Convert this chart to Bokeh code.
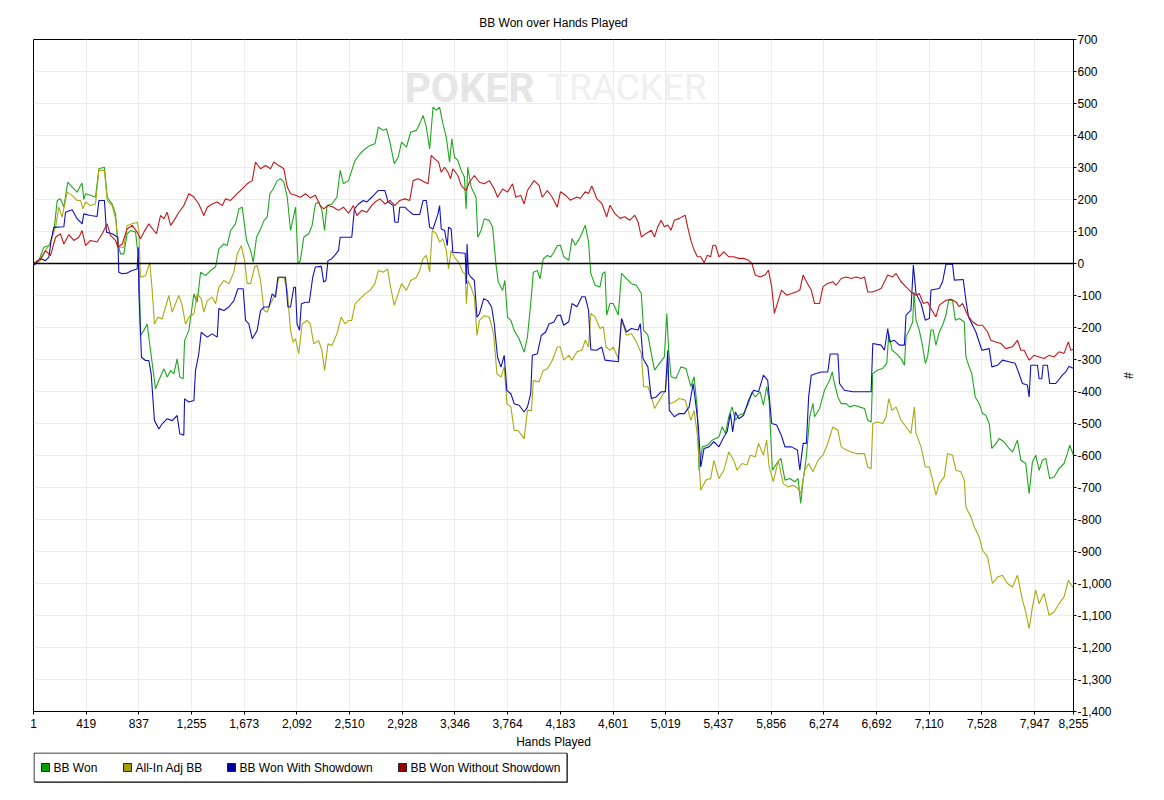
from bokeh.plotting import figure
from bokeh.layouts import column
from bokeh.core.properties import value
from bokeh.models import (Range1d, FixedTicker, NumeralTickFormatter, Span, Label)
from bokeh.embed import file_html
from bokeh.resources import INLINE

title_text = "BB Won over Hands Played"
x_label = "Hands Played"
y_label = "#"
series_names = ["BB Won", "All-In Adj BB", "BB Won With Showdown", "BB Won Without Showdown"]
series_colors = ["#1ea81e", "#aaaa10", "#1010c0", "#c01818"]
swatch_colors = ["#00a000", "#a0a000", "#0000a0", "#a00000"]
x_ticks = [1, 419, 837, 1255, 1673, 2092, 2510, 2928, 3346, 3764, 4183, 4601,
           5019, 5437, 5856, 6274, 6692, 7110, 7528, 7947, 8255]
y_ticks = [-1400, -1300, -1200, -1100, -1000, -900, -800, -700, -600, -500, -400,
           -300, -200, -100, 0, 100, 200, 300, 400, 500, 600, 700]

# (hand, BB) points
won_points = [
    (1, -6), (43, 9), (83, 51), (123, 56), (149, 82), (168, 119), (189, 197), (215, 202),
    (242, 176), (273, 254), (308, 239), (347, 223), (374, 244), (387, 251), (400, 200),
    (414, 218), (453, 213), (493, 207), (520, 296), (564, 301), (586, 207), (625, 186),
    (652, 155), (670, 61), (692, 30), (718, 30), (744, 93), (771, 103), (811, 98),
    (824, 51), (837, 20), (850, -225), (877, -209), (903, -189), (930, -272), (969, -392),
    (996, -365), (1036, -329), (1062, -355), (1089, -334), (1115, -345), (1141, -298),
    (1162, -355), (1189, -360), (1200, -241), (1234, -209), (1274, -95), (1300, -121),
    (1327, -27), (1366, -38), (1406, -22), (1446, -11), (1472, 46), (1512, 61), (1538, 56),
    (1565, 103), (1604, 124), (1631, 171), (1657, 176), (1692, 72), (1724, 41), (1745, 4),
    (1771, 82), (1803, 108), (1830, 134), (1856, 145), (1877, 218), (1903, 233),
    (1935, 259), (1962, 265), (1988, 254), (2015, 207), (2041, 103), (2081, 176),
    (2101, -1), (2119, 9), (2146, 82), (2185, 93), (2212, 119), (2238, 186), (2264, 192),
    (2290, 166), (2311, 103), (2330, 181), (2369, 186), (2409, 207), (2435, 291),
    (2461, 249), (2501, 259), (2527, 291), (2553, 322), (2593, 343), (2632, 358),
    (2672, 369), (2711, 374), (2738, 426), (2777, 416), (2803, 421), (2830, 379),
    (2864, 312), (2895, 332), (2922, 379), (2961, 364), (2995, 411), (3040, 416),
    (3066, 437), (3093, 463), (3119, 426), (3145, 358), (3172, 489), (3198, 479),
    (3224, 489), (3250, 437), (3277, 395), (3303, 317), (3321, 390), (3342, 332),
    (3369, 322), (3395, 291), (3421, 270), (3434, 171), (3448, 301), (3474, 239),
    (3513, 207), (3527, 82), (3553, 103), (3579, 140), (3619, 134), (3645, 113),
    (3671, -1), (3690, -58), (3724, -84), (3742, -53), (3763, -168), (3790, -178),
    (3816, -209), (3855, -235), (3895, -277), (3921, -230), (3947, -126), (3968, -27),
    (4000, -22), (4021, -48), (4047, 15), (4079, 25), (4105, 20), (4131, 35), (4158, 56),
    (4183, 57), (4209, 21), (4249, 10), (4275, 78), (4301, 57), (4327, 73), (4353, 94),
    (4380, 120), (4406, 68), (4424, -31), (4458, -68), (4497, -73), (4518, -31),
    (4537, -26), (4550, -161), (4576, -125), (4602, -125), (4642, -161), (4668, -31),
    (4707, -47), (4746, -63), (4786, -68), (4825, -94), (4843, -208), (4877, -224),
    (4904, -281), (4930, -333), (4969, -312), (5008, -292), (5027, -156), (5042, -271),
    (5061, -354), (5100, -359), (5139, -323), (5179, -328), (5218, -385), (5244, -354),
    (5270, -458), (5283, -646), (5310, -573), (5349, -568), (5388, -552), (5414, -547),
    (5441, -542), (5467, -510), (5493, -531), (5519, -479), (5545, -448), (5572, -490),
    (5598, -474), (5637, -469), (5676, -437), (5703, -401), (5729, -417), (5768, -401),
    (5794, -443), (5820, -385), (5839, -427), (5865, -646), (5899, -625), (5933, -609),
    (5965, -677), (6004, -672), (6043, -682), (6069, -672), (6090, -750), (6109, -677),
    (6135, -604), (6161, -479), (6187, -437), (6200, -479), (6240, -453), (6279, -396),
    (6319, -365), (6340, -339), (6358, -375), (6385, -417), (6411, -438), (6451, -438),
    (6477, -448), (6517, -443), (6556, -448), (6596, -453), (6622, -490), (6649, -495),
    (6662, -344), (6701, -333), (6741, -328), (6773, -312), (6789, -219), (6815, -271),
    (6847, -281), (6886, -297), (6913, -318), (6926, -229), (6952, -208), (6979, -182),
    (6989, -89), (7005, -177), (7031, -208), (7058, -260), (7079, -312), (7097, -292),
    (7124, -208), (7142, -208), (7163, -255), (7190, -214), (7216, -193), (7243, -161),
    (7264, -115), (7295, -115), (7317, -177), (7348, -172), (7388, -182), (7401, -292),
    (7427, -323), (7448, -344), (7475, -417), (7507, -438), (7533, -469), (7559, -474),
    (7586, -500), (7607, -578), (7639, -563), (7665, -547), (7705, -558), (7744, -578),
    (7771, -589), (7810, -552), (7837, -615), (7876, -625), (7903, -719), (7929, -620),
    (7955, -599), (7982, -646), (8008, -615), (8035, -609), (8066, -672), (8101, -667),
    (8140, -641), (8180, -625), (8206, -594), (8225, -568), (8255, -599),
]

allin_points = [
    (1, -6), (57, 9), (96, 41), (123, 56), (149, 82), (176, 113), (202, 176), (228, 145),
    (268, 223), (308, 213), (347, 197), (374, 197), (393, 171), (414, 192), (453, 181),
    (493, 186), (520, 291), (564, 291), (586, 197), (625, 181), (652, 140), (678, 51),
    (718, 51), (744, 119), (784, 124), (824, 129), (837, 103), (850, -43), (890, -38),
    (924, 4), (943, -84), (961, -189), (988, -168), (1022, -173), (1049, -136),
    (1075, -100), (1102, -152), (1128, -126), (1155, -100), (1181, -131), (1207, -189),
    (1234, -168), (1274, -157), (1300, -95), (1332, -110), (1353, -152), (1380, -116),
    (1419, -105), (1446, -126), (1472, -74), (1512, -53), (1552, -63), (1591, -27),
    (1618, 30), (1650, 56), (1676, 9), (1697, -63), (1724, -63), (1755, -11), (1776, -6),
    (1803, -53), (1830, -147), (1856, -152), (1882, -126), (1922, -95), (1948, -43),
    (1988, -43), (2015, -84), (2041, -209), (2060, -246), (2080, -235), (2106, -282),
    (2133, -189), (2172, -178), (2198, -189), (2225, -251), (2264, -241), (2290, -272),
    (2311, -334), (2338, -251), (2369, -256), (2409, -220), (2443, -168), (2475, -189),
    (2501, -178), (2527, -178), (2553, -126), (2593, -110), (2632, -95), (2672, -84),
    (2711, -63), (2738, -22), (2777, -27), (2811, -17), (2830, -63), (2864, -131),
    (2895, -95), (2922, -63), (2961, -84), (2995, -53), (3040, -43), (3066, -22),
    (3093, 15), (3119, 25), (3145, -27), (3166, 103), (3198, 93), (3224, 67), (3250, 77),
    (3277, 41), (3295, -17), (3316, 41), (3342, 20), (3382, -1), (3408, -27), (3427, -32),
    (3437, -126), (3448, -53), (3474, -74), (3500, -105), (3521, -225), (3540, -178),
    (3579, -163), (3619, -168), (3653, -220), (3679, -345), (3711, -355), (3737, -323),
    (3758, -438), (3790, -449), (3816, -522), (3848, -522), (3895, -548), (3921, -459),
    (3953, -459), (3968, -366), (4013, -370), (4047, -334), (4079, -329), (4118, -303),
    (4158, -261), (4183, -261), (4209, -302), (4249, -287), (4275, -302), (4314, -276),
    (4353, -271), (4380, -240), (4406, -261), (4424, -156), (4458, -167), (4497, -203),
    (4524, -198), (4545, -261), (4576, -271), (4602, -261), (4642, -297), (4668, -177),
    (4707, -224), (4746, -219), (4786, -245), (4825, -281), (4843, -385), (4877, -385),
    (4904, -417), (4930, -453), (4969, -427), (5016, -396), (5035, -312), (5047, -438),
    (5087, -433), (5126, -422), (5173, -427), (5218, -490), (5244, -459), (5270, -537),
    (5297, -709), (5336, -677), (5375, -672), (5401, -615), (5441, -672), (5480, -646),
    (5519, -589), (5559, -615), (5585, -646), (5624, -625), (5663, -630), (5690, -599),
    (5729, -604), (5755, -562), (5794, -599), (5820, -552), (5839, -635), (5873, -682),
    (5912, -615), (5951, -688), (5991, -698), (6030, -693), (6069, -703), (6090, -719),
    (6122, -646), (6153, -625), (6187, -651), (6227, -615), (6266, -599), (6300, -568),
    (6345, -511), (6385, -521), (6411, -573), (6451, -583), (6490, -589), (6530, -594),
    (6596, -594), (6622, -636), (6649, -641), (6662, -500), (6701, -495), (6741, -500),
    (6767, -479), (6789, -422), (6815, -459), (6847, -448), (6886, -490), (6926, -511),
    (6965, -531), (6992, -448), (7005, -531), (7045, -573), (7079, -636), (7111, -636),
    (7137, -677), (7163, -724), (7190, -688), (7229, -667), (7256, -594), (7295, -599),
    (7322, -646), (7361, -651), (7388, -677), (7401, -761), (7441, -792), (7467, -823),
    (7507, -855), (7533, -896), (7573, -917), (7612, -1000), (7652, -980), (7691, -974),
    (7731, -1000), (7771, -1011), (7810, -974), (7850, -1052), (7876, -1089),
    (7903, -1141), (7929, -1073), (7955, -1021), (7982, -1063), (8021, -1031),
    (8061, -1099), (8101, -1089), (8140, -1063), (8180, -1042), (8214, -990), (8255, -1015),
]

showdown_points = [
    (1, -6), (57, 15), (96, 9), (123, 20), (141, 72), (162, 113), (242, 115), (255, 160),
    (308, 168), (347, 140), (387, 124), (400, 155), (453, 150), (506, 147), (520, 197),
    (564, 197), (580, 98), (625, 93), (670, 82), (678, -27), (705, -32), (744, -30),
    (784, -22), (824, -17), (832, 51), (837, -84), (858, -293), (890, -303), (916, -303),
    (935, -345), (961, -491), (996, -517), (1022, -501), (1062, -485), (1102, -491),
    (1141, -475), (1162, -532), (1194, -537), (1200, -423), (1234, -433), (1274, -428),
    (1287, -334), (1313, -282), (1332, -215), (1380, -230), (1419, -220), (1459, -230),
    (1472, -141), (1512, -147), (1552, -136), (1591, -116), (1623, -79), (1665, -79),
    (1684, -178), (1710, -189), (1737, -235), (1776, -209), (1803, -147), (1830, -136),
    (1869, -136), (1895, -95), (1922, -105), (1940, -43), (2001, -43), (2020, -136),
    (2041, -136), (2067, -74), (2080, -74), (2093, -189), (2112, -209), (2127, -126),
    (2159, -121), (2190, -121), (2217, -43), (2238, -11), (2285, -9), (2304, -58),
    (2322, -53), (2338, 9), (2369, 15), (2401, 30), (2422, 41), (2435, 82), (2527, 82),
    (2548, 171), (2580, 186), (2619, 197), (2645, 192), (2685, 207), (2724, 223),
    (2738, 228), (2790, 228), (2816, 192), (2856, 181), (2869, 129), (2895, 129),
    (2908, 176), (2948, 176), (2974, 166), (3014, 153), (3066, 153), (3093, 197),
    (3119, 197), (3145, 113), (3172, 108), (3211, 155), (3224, 181), (3237, 108),
    (3264, 103), (3285, 56), (3295, 113), (3316, 108), (3329, 35), (3427, 32),
    (3437, -63), (3442, 61), (3453, -32), (3474, -43), (3500, -53), (3521, -168),
    (3540, -157), (3574, -110), (3605, -116), (3637, -136), (3658, -189), (3684, -293),
    (3711, -324), (3737, -287), (3758, -397), (3790, -407), (3816, -438), (3855, -443),
    (3895, -464), (3921, -449), (3947, -407), (3960, -287), (4000, -282), (4031, -225),
    (4066, -214), (4092, -189), (4131, -183), (4158, -163), (4183, -161), (4209, -193),
    (4249, -182), (4275, -125), (4314, -135), (4353, -104), (4380, -104), (4406, -146),
    (4424, -269), (4471, -271), (4511, -261), (4537, -302), (4642, -307), (4668, -172),
    (4707, -214), (4746, -203), (4799, -208), (4817, -188), (4838, -297), (4877, -323),
    (4904, -422), (4943, -417), (4982, -401), (5016, -401), (5035, -271), (5047, -459),
    (5087, -479), (5126, -469), (5166, -469), (5205, -448), (5236, -375), (5257, -438),
    (5278, -510), (5297, -636), (5323, -578), (5362, -573), (5401, -557), (5441, -573),
    (5480, -542), (5506, -526), (5532, -469), (5550, -526), (5572, -464), (5598, -485),
    (5637, -474), (5676, -427), (5716, -396), (5755, -401), (5794, -349), (5828, -365),
    (5860, -500), (5899, -505), (5938, -539), (5965, -573), (6017, -573), (6064, -583),
    (6083, -646), (6109, -562), (6135, -562), (6153, -417), (6174, -349), (6214, -344),
    (6253, -339), (6305, -339), (6324, -283), (6385, -283), (6398, -375), (6437, -396),
    (6503, -401), (6649, -401), (6662, -250), (6728, -255), (6754, -271), (6781, -203),
    (6794, -245), (6833, -240), (6873, -255), (6913, -255), (6926, -161), (6965, -146),
    (6984, -5), (7005, -94), (7045, -125), (7079, -177), (7111, -172), (7124, -83),
    (7190, -78), (7216, -57), (7243, -2), (7295, -2), (7309, -52), (7380, -50),
    (7401, -115), (7422, -167), (7454, -193), (7480, -214), (7528, -271), (7586, -266),
    (7607, -323), (7652, -318), (7691, -302), (7744, -307), (7792, -312), (7818, -339),
    (7850, -375), (7889, -380), (7903, -417), (7916, -318), (7969, -318), (7982, -360),
    (8003, -360), (8014, -318), (8048, -318), (8066, -375), (8114, -375), (8167, -349),
    (8193, -339), (8219, -321), (8255, -328),
]

no_showdown_points = [
    (1, 0), (57, 15), (96, 40), (136, 25), (176, 82), (215, 93), (242, 61), (281, 90),
    (321, 72), (361, 82), (387, 103), (414, 56), (453, 72), (506, 67), (546, 93),
    (586, 124), (612, 88), (652, 72), (670, 51), (705, 61), (744, 108), (784, 119),
    (824, 98), (850, 77), (877, 98), (916, 124), (956, 103), (977, 93), (1009, 150),
    (1036, 140), (1062, 160), (1089, 119), (1115, 134), (1155, 160), (1194, 181),
    (1234, 218), (1274, 208), (1313, 186), (1353, 150), (1380, 176), (1419, 186),
    (1459, 192), (1499, 181), (1525, 202), (1565, 197), (1604, 213), (1657, 233),
    (1697, 249), (1737, 259), (1763, 317), (1803, 296), (1842, 306), (1882, 296),
    (1909, 317), (1948, 306), (1988, 296), (2015, 239), (2041, 218), (2080, 213),
    (2119, 207), (2159, 218), (2198, 205), (2238, 213), (2277, 181), (2304, 171),
    (2343, 181), (2382, 176), (2422, 166), (2461, 176), (2501, 157), (2540, 181),
    (2567, 150), (2606, 166), (2645, 160), (2685, 181), (2711, 192), (2751, 202),
    (2790, 186), (2830, 197), (2869, 181), (2908, 197), (2948, 202), (2987, 197),
    (3014, 259), (3053, 265), (3093, 257), (3132, 249), (3158, 338), (3185, 327),
    (3216, 317), (3237, 285), (3264, 301), (3290, 285), (3311, 265), (3329, 296),
    (3369, 275), (3395, 244), (3434, 228), (3461, 254), (3500, 275), (3540, 254),
    (3579, 249), (3619, 259), (3658, 233), (3684, 207), (3724, 233), (3763, 223),
    (3803, 249), (3829, 207), (3868, 213), (3895, 186), (3921, 228), (3974, 259),
    (4013, 244), (4039, 207), (4079, 228), (4118, 207), (4158, 176), (4183, 224),
    (4222, 214), (4262, 198), (4288, 203), (4314, 208), (4340, 203), (4380, 224),
    (4406, 219), (4432, 242), (4471, 203), (4511, 188), (4550, 146), (4576, 182),
    (4615, 156), (4655, 141), (4694, 146), (4733, 135), (4773, 151), (4799, 130),
    (4825, 83), (4864, 94), (4904, 104), (4930, 83), (4956, 115), (4982, 135),
    (5008, 115), (5035, 120), (5061, 104), (5087, 135), (5126, 141), (5173, 151),
    (5192, 115), (5218, 73), (5244, 42), (5270, 21), (5297, 21), (5323, 2), (5349, 26),
    (5375, 21), (5393, 57), (5414, 57), (5441, 21), (5480, 36), (5519, 21), (5559, 21),
    (5598, 16), (5637, 16), (5676, 10), (5703, 0), (5729, -36), (5768, -42), (5807, -36),
    (5834, -21), (5860, -73), (5881, -156), (5912, -115), (5938, -83), (5978, -99),
    (6017, -94), (6056, -88), (6083, -83), (6109, -36), (6135, -57), (6174, -83),
    (6200, -125), (6240, -125), (6266, -73), (6300, -63), (6345, -57), (6371, -68),
    (6411, -47), (6451, -42), (6490, -47), (6530, -42), (6569, -47), (6596, -42),
    (6622, -89), (6662, -89), (6701, -83), (6728, -78), (6781, -36), (6820, -42),
    (6847, -31), (6886, -57), (6926, -73), (6965, -89), (7005, -99), (7031, -94),
    (7063, -125), (7097, -120), (7124, -141), (7163, -167), (7190, -130), (7243, -115),
    (7282, -112), (7322, -120), (7348, -135), (7375, -125), (7414, -161), (7454, -182),
    (7493, -193), (7533, -193), (7573, -214), (7599, -240), (7639, -245), (7678, -250),
    (7718, -266), (7771, -260), (7810, -240), (7837, -271), (7863, -271), (7903, -302),
    (7942, -287), (7982, -292), (8021, -297), (8061, -287), (8101, -292), (8140, -276),
    (8180, -281), (8214, -245), (8233, -271), (8255, -268),
]

series_points = [won_points, allin_points, showdown_points, no_showdown_points]

FONT = "Liberation Sans"
FRAME_LEFT, FRAME_W = 33, 1040

p = figure(frame_width=FRAME_W, frame_height=672,
           min_border_left=FRAME_LEFT, min_border_right=75,
           min_border_top=39, min_border_bottom=41,
           x_range=Range1d(x_ticks[0], x_ticks[-1]),
           y_range=Range1d(y_ticks[0], y_ticks[-1]),
           y_axis_location="right",
           output_backend="svg", toolbar_location=None,
           background_fill_color="white", border_fill_color="white")

p.title.text = title_text
p.title.align = "center"
p.title.text_font = FONT
p.title.text_font_size = "12px"
p.title.text_font_style = "normal"
p.title.text_color = "black"
p.title.standoff = 19

p.outline_line_color = "black"
p.outline_line_width = 1

# grid
p.xgrid.ticker = FixedTicker(ticks=x_ticks)
p.ygrid.ticker = FixedTicker(ticks=y_ticks)
for g in (p.xgrid, p.ygrid):
    g.grid_line_color = "#ececec"
    g.grid_line_width = 1

# axes
xa = p.xaxis[0]
ya = p.yaxis[0]
xa.ticker = FixedTicker(ticks=x_ticks)
ya.ticker = FixedTicker(ticks=y_ticks)
xa.formatter = NumeralTickFormatter(format="0,0")
ya.formatter = NumeralTickFormatter(format="0,0")
xa.axis_label = x_label
ya.axis_label = y_label
for a in (xa, ya):
    a.axis_line_color = "black"
    a.major_tick_line_color = "black"
    a.major_tick_in = 0
    a.major_tick_out = 3
    a.minor_tick_line_color = None
    a.major_label_text_font = FONT
    a.major_label_text_font_size = "12px"
    a.major_label_text_color = "black"
    a.axis_label_text_font = FONT
    a.axis_label_text_font_size = "12px"
    a.axis_label_text_font_style = "normal"
    a.axis_label_text_color = "black"
xa.major_label_standoff = 4
xa.axis_label_standoff = 4
ya.major_label_standoff = 1
ya.axis_label_standoff = 6

# watermark
p.add_layout(Label(x=2945, y=550, text="POKER", text_font="Roboto",
                   text_font_style="bold", text_font_size="41px",
                   text_color="#e6e6e6", text_baseline="middle", text_align="left"))
p.add_layout(Label(x=4075, y=550, text="TRACKER", text_font="Roboto",
                   text_font_style="normal", text_font_size="37px",
                   text_color="#f0f0f0", text_baseline="middle", text_align="left"))

# zero line
p.add_layout(Span(location=0, dimension="width", line_color="black", line_width=1.3))

# series lines
for pts, color in zip(series_points, series_colors):
    hands = [h for h, v in pts]
    vals = [v for h, v in pts]
    p.line(hands, vals, line_color=color, line_width=1.1)

# legend strip: an axis-less figure in pixel units directly below the chart
# (its frame is aligned with the chart frame, so x runs in page pixels from FRAME_LEFT)
LG_H = 46
lg = figure(title=None, frame_width=FRAME_W, frame_height=LG_H,
            min_border_left=FRAME_LEFT, min_border_right=75,
            min_border_top=0, min_border_bottom=0,
            x_range=Range1d(FRAME_LEFT, FRAME_LEFT + FRAME_W), y_range=Range1d(0, LG_H),
            x_axis_location=None, y_axis_location=None,
            output_backend="svg", toolbar_location=None,
            background_fill_color="white", border_fill_color="white")
lg.grid.visible = False
lg.outline_line_color = None

box_left, box_right, box_bottom, box_top = 33.5, 566.5, 16.5, 45.5
swatch_left = [41, 123, 227, 398]   # legend layout positions (px)
swatch_size = 8
label_gap = 4
mid_y = (box_bottom + box_top) / 2

lg.quad(left=[box_left + 1], right=[box_right + 1], bottom=[box_bottom - 1], top=[box_top - 1],
        fill_color="#808080", line_color=None)
lg.quad(left=[box_left], right=[box_right], bottom=[box_bottom], top=[box_top],
        fill_color="white", line_color="black", line_width=1)
lg.quad(left=swatch_left,
        right=[s + swatch_size for s in swatch_left],
        bottom=[mid_y - swatch_size / 2] * 4,
        top=[mid_y + swatch_size / 2] * 4,
        fill_color=swatch_colors, line_color="#222222", line_width=1)
lg.text(x=[s + swatch_size + label_gap for s in swatch_left], y=[mid_y] * 4,
        text=series_names, text_font=value(FONT), text_font_size="12px",
        text_color="black", text_baseline="middle", text_align="left")

layout = column(p, lg, spacing=0)
open("out.html", "w").write(file_html(layout, INLINE))
